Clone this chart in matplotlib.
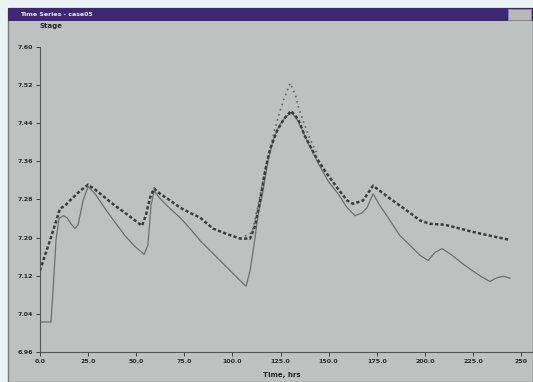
import matplotlib.pyplot as plt
from matplotlib.patches import Rectangle

# stage hydrographs (time in hrs, stage)
obs_t = [0, 2.6, 5.2, 7.8, 10.4, 13.0, 15.6, 18.2, 20.8, 25.0, 28.6, 33.8, 39.0, 44.2,
         49.4, 53.0, 55.1, 57.2, 59.3, 62.4, 67.6, 72.8, 78.0, 83.2, 89.9, 96.2, 104.0,
         109.2, 111.8, 114.4, 117.0, 119.6, 123.2, 126.8, 130.5, 134.1, 137.7, 143.0,
         148.1, 154.4, 159.6, 162.7, 167.9, 173.1, 176.7, 181.9, 187.1, 192.3, 197.5,
         202.7, 210.5, 218.3, 226.1, 233.9, 243.3]
obs_h = [7.131, 7.163, 7.194, 7.227, 7.261, 7.267, 7.278, 7.288, 7.298, 7.311, 7.301,
         7.284, 7.267, 7.252, 7.236, 7.225, 7.248, 7.284, 7.303, 7.292, 7.278, 7.263,
         7.252, 7.242, 7.219, 7.209, 7.198, 7.198, 7.225, 7.278, 7.340, 7.386, 7.424,
         7.449, 7.466, 7.449, 7.413, 7.372, 7.340, 7.305, 7.278, 7.271, 7.278, 7.309,
         7.298, 7.282, 7.267, 7.252, 7.236, 7.229, 7.227, 7.219, 7.211, 7.204, 7.196]

sim_t = [0, 5.7, 6.8, 8.3, 9.9, 12.0, 14.0, 16.1, 18.2, 19.8, 22.4, 25.0, 28.6, 33.8,
         39.0, 44.2, 49.4, 54.1, 56.1, 57.7, 59.3, 62.4, 67.6, 72.8, 78.0, 83.2, 88.4,
         93.6, 98.8, 104.0, 107.1, 109.2, 111.2, 113.3, 115.9, 118.5, 121.1, 124.2,
         127.9, 131.0, 134.1, 139.3, 144.5, 149.7, 154.9, 159.6, 163.7, 167.4, 170.0,
         173.1, 176.7, 181.9, 187.1, 192.3, 197.5, 201.7, 205.3, 209.0, 214.2, 219.4,
         224.6, 229.8, 233.9, 237.0, 240.7, 244.3]
sim_h = [7.023, 7.023, 7.090, 7.194, 7.240, 7.246, 7.242, 7.229, 7.219, 7.227, 7.278,
         7.307, 7.292, 7.261, 7.232, 7.204, 7.181, 7.165, 7.184, 7.267, 7.298, 7.282,
         7.261, 7.242, 7.219, 7.194, 7.173, 7.152, 7.131, 7.110, 7.098, 7.131, 7.184,
         7.246, 7.298, 7.361, 7.403, 7.434, 7.455, 7.461, 7.445, 7.399, 7.357, 7.319,
         7.292, 7.263, 7.246, 7.252, 7.263, 7.292, 7.267, 7.236, 7.204, 7.184, 7.163,
         7.152, 7.169, 7.177, 7.163, 7.146, 7.131, 7.117, 7.108, 7.115, 7.119, 7.115]

peak_t = [104.0, 110.2, 113.3, 115.4, 117.5, 119.6, 122.2, 124.8, 126.8, 130.0, 132.6,
          134.6, 137.2, 140.3, 144.5]
peak_h = [7.198, 7.211, 7.267, 7.309, 7.351, 7.386, 7.430, 7.466, 7.491, 7.524, 7.501,
          7.470, 7.440, 7.407, 7.372]

x_ticks = [0, 25, 50, 75, 100, 125, 150, 175, 200, 225, 250]
x_labels = ['0.0', '25.0', '50.0', '75.0', '100.0', '125.0', '150.0', '175.0',
            '200.0', '225.0', '250']
y_ticks = [6.96, 7.04, 7.12, 7.20, 7.28, 7.36, 7.44, 7.52, 7.60]

W, H = 533, 382
fig = plt.figure(figsize=(W / 100, H / 100), dpi=100)
fig.patch.set_facecolor('#edf2f2')

# window frame + title bar
win = fig.add_axes([0, 0, 1, 1])
win.set_xlim(0, W)
win.set_ylim(H, 0)
win.axis('off')
win.add_patch(Rectangle((8, 8), W - 8, H - 8, facecolor='#bfc1c1', edgecolor='#7a7c7c', lw=1))
win.add_patch(Rectangle((8, 8), W - 8, 13, facecolor='#3d2878', edgecolor='none'))
win.add_patch(Rectangle((508, 9), 23, 11, facecolor='#b8b8b8', edgecolor='#888888', lw=0.6))
win.text(20, 14.5, 'Time Series - case05', color='#e8e8f0', fontsize=4.5, va='center',
         fontweight='bold')
win.text(40, 26, 'Stage', color='#222222', fontsize=5, va='center', fontweight='bold')
win.text(282, 375, 'Time, hrs', color='#222222', fontsize=5, ha='center', va='center',
         fontweight='bold')

ax = fig.add_axes([40 / W, 30 / H, (W - 40) / W, 305 / H])
ax.set_facecolor('none')
ax.plot(sim_t, sim_h, color='#6e7070', lw=0.9)
ax.plot(peak_t, peak_h, color='#666666', lw=1.2, ls=(0, (1, 2.2)))
ax.plot(obs_t, obs_h, color='#3c3c3c', lw=1.8, ls=(0, (1.3, 0.9)))

ax.set_xlim(0, (W - 40) / 48.1 * 25)
ax.set_ylim(6.96, 7.60)
ax.set_xticks(x_ticks)
ax.set_xticklabels(x_labels, fontweight='bold')
ax.set_yticks(y_ticks)
ax.set_yticklabels(['%.2f' % v for v in y_ticks], fontweight='bold')
ax.tick_params(labelsize=4.5, colors='#2a2a2a', length=3, width=0.6, pad=2)
for s in ['top', 'right']:
    ax.spines[s].set_visible(False)
for s in ['left', 'bottom']:
    ax.spines[s].set_color('#555555')
    ax.spines[s].set_linewidth(0.8)

fig.savefig('out.png', dpi=100, facecolor=fig.get_facecolor())
